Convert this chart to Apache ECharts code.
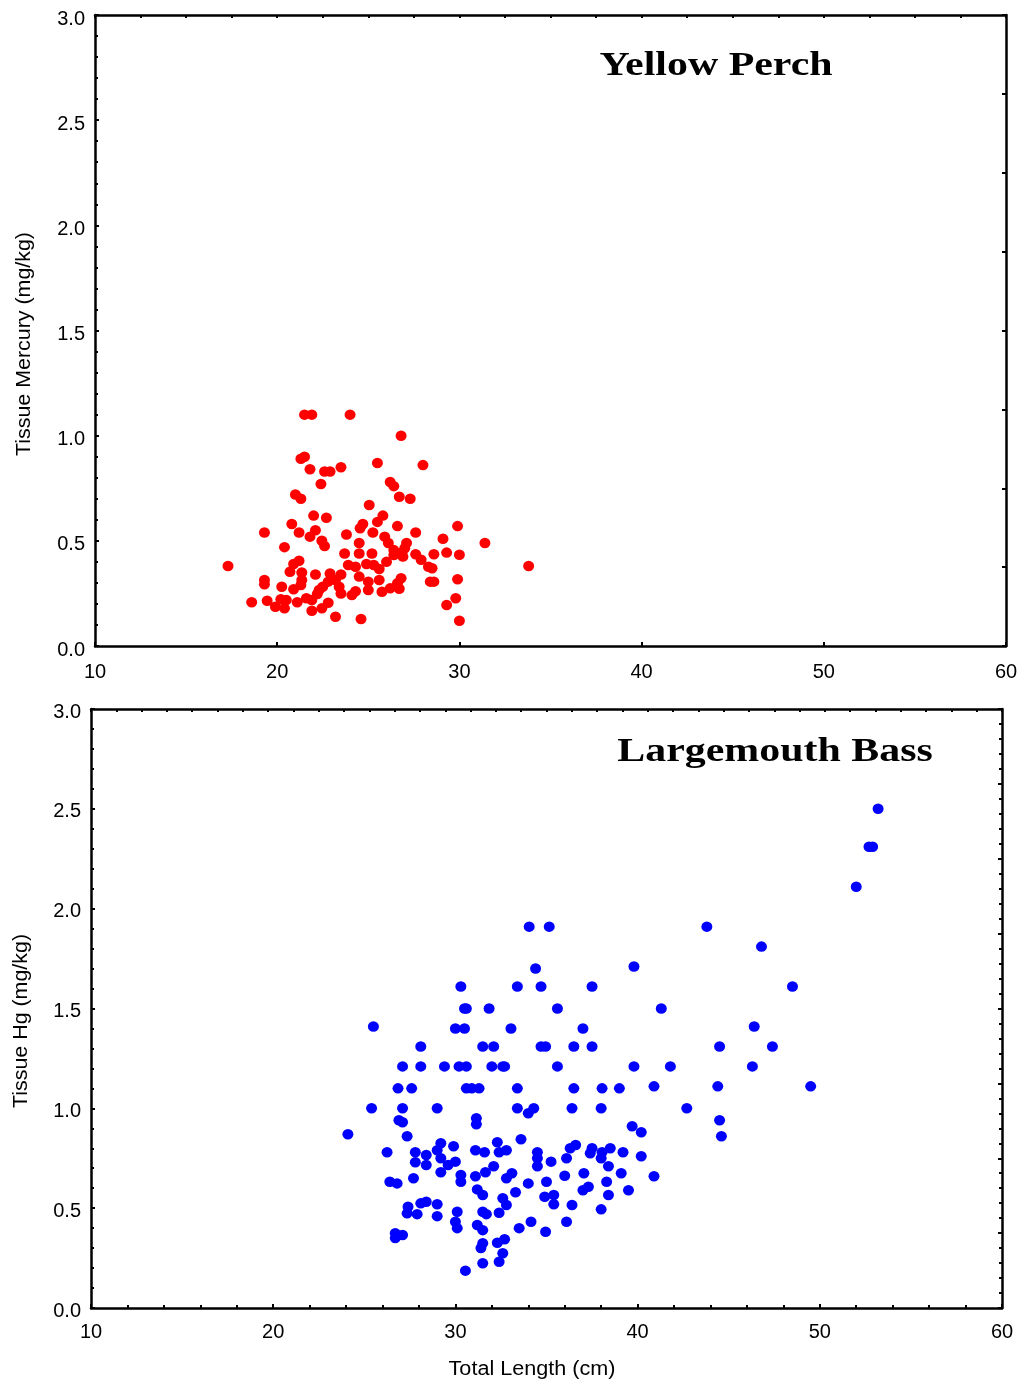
<!DOCTYPE html>
<html>
<head>
<meta charset="utf-8">
<script src="https://cdn.jsdelivr.net/npm/echarts@6/dist/echarts.min.js"></script>
<style>
html,body{margin:0;padding:0;background:#fff;}
#chart{width:1023px;height:1385px;}
</style>
</head>
<body>
<div id="chart"></div>
<script>
// ---- Data ----
const perchLength = [21.5,21.9,24.0,26.8,21.3,21.5,21.8,22.6,22.9,23.5,25.5,28.0,22.4,26.2,26.4,21.0,21.3,26.7,27.3,25.05,
  22.0,22.7,25.8,20.8,24.7,24.55,25.5,26.6,29.9,19.3,21.2,22.1,21.8,23.8,25.25,27.6,22.45,22.6,25.9,26.1,
  27.1,27.0,29.1,31.4,20.4,24.5,23.7,24.5,25.2,26.4,26.4,27.6,27.9,28.6,29.3,30.0,17.3,33.8,21.2,20.9,
  20.7,21.35,22.1,22.9,23.5,23.9,24.3,24.9,25.3,25.6,26.0,26.85,26.9,28.3,28.5,28.4,28.6,29.9,19.3,19.3,
  20.25,20.9,21.3,21.35,22.3,22.5,22.8,23.2,23.4,23.5,24.5,25.0,25.0,25.6,25.75,26.2,26.6,26.8,26.7,24.1,
  24.3,18.6,19.45,19.9,20.2,20.4,20.5,21.1,21.6,21.9,22.2,22.45,22.8,21.9,23.2,24.6,29.3,29.8,30.0];
const perchHg = [1.10,1.10,1.10,1.00,0.89,0.90,0.84,0.83,0.83,0.85,0.87,0.86,0.77,0.78,0.76,0.72,0.70,0.71,0.70,0.67,
  0.62,0.61,0.62,0.58,0.58,0.56,0.59,0.57,0.57,0.54,0.54,0.55,0.52,0.53,0.54,0.54,0.50,0.475,0.52,0.49,
  0.49,0.465,0.51,0.49,0.47,0.49,0.44,0.44,0.44,0.456,0.433,0.436,0.41,0.436,0.444,0.434,0.38,0.38,0.405,0.39,
  0.353,0.35,0.34,0.345,0.34,0.385,0.377,0.39,0.385,0.366,0.40,0.444,0.425,0.377,0.37,0.306,0.306,0.317,0.314,0.293,
  0.282,0.27,0.29,0.314,0.266,0.282,0.306,0.314,0.282,0.25,0.33,0.306,0.266,0.314,0.258,0.274,0.298,0.322,0.272,0.242,
  0.26,0.208,0.215,0.187,0.222,0.179,0.219,0.208,0.227,0.219,0.247,0.179,0.206,0.168,0.139,0.128,0.195,0.227,0.12];

const bassLength = [24.1,25.5,25.4,53.2,52.7,52.9,52.0,49.5,48.5,46.8,47.4,46.4,46.3,44.5,44.4,44.5,44.6,43.8,42.7,41.8,
  41.3,40.9,40.9,39.8,39.8,39.7,40.2,40.2,39.5,34.05,35.15,34.4,30.3,33.4,34.7,37.5,30.5,30.6,31.85,35.6,
  30.0,30.5,33.05,37.0,28.1,31.5,32.1,34.7,34.95,36.5,37.5,27.1,28.1,29.4,30.2,30.6,32.0,32.6,32.7,35.6,
  26.85,27.6,30.6,30.9,31.3,33.4,36.5,38.05,39.0,27.1,29.0,33.4,34.3,34.0,36.4,38.0,26.9,27.1,31.15,31.15,
  27.35,26.25,27.8,27.8,28.4,28.4,29.2,29.0,29.2,29.2,29.9,29.6,30.0,30.3,30.3,27.7,26.4,26.8,31.1,31.6,
  32.3,32.4,32.8,33.6,31.1,31.65,32.1,32.8,33.1,31.2,31.5,33.3,34.0,34.5,34.5,34.5,35.25,35.0,34.9,35.4,
  35.4,36.1,36.3,36.6,36.0,37.05,37.0,37.3,37.4,37.5,38.05,38.0,38.5,39.2,38.4,39.1,38.3,38.4,38.0,36.4,
  36.1,34.95,34.15,33.5,32.6,32.8,32.4,31.5,31.7,30.1,30.0,30.1,31.2,31.5,31.5,31.4,32.3,32.7,32.6,32.4,
  31.5,30.55,27.4,27.35,27.9,28.1,28.4,29.0,29.0,26.7,27.1,26.7];
const bassHg = [0.87,1.41,1.00,2.50,2.31,2.31,2.11,1.11,1.61,1.81,1.31,1.41,1.21,1.31,1.11,0.94,0.86,1.91,1.00,1.21,
  1.50,1.11,0.66,1.71,1.21,0.91,0.88,0.76,0.59,1.91,1.91,1.70,1.61,1.61,1.61,1.61,1.50,1.50,1.50,1.50,
  1.40,1.40,1.40,1.40,1.31,1.31,1.31,1.31,1.31,1.31,1.31,1.21,1.21,1.21,1.21,1.21,1.21,1.21,1.21,1.21,
  1.10,1.10,1.10,1.10,1.10,1.10,1.10,1.10,1.10,1.00,1.00,1.00,1.00,0.975,1.00,1.00,0.94,0.93,0.95,0.92,
  0.86,0.78,0.78,0.73,0.766,0.716,0.825,0.79,0.75,0.68,0.81,0.716,0.733,0.666,0.632,0.65,0.632,0.624,0.79,0.78,
  0.83,0.78,0.79,0.845,0.66,0.68,0.71,0.65,0.675,0.594,0.566,0.58,0.624,0.78,0.75,0.71,0.733,0.632,0.557,0.566,
  0.52,0.75,0.80,0.816,0.662,0.675,0.59,0.607,0.775,0.80,0.78,0.75,0.80,0.78,0.71,0.675,0.632,0.566,0.494,0.516,
  0.432,0.382,0.432,0.40,0.55,0.516,0.477,0.482,0.47,0.482,0.432,0.40,0.416,0.39,0.324,0.30,0.327,0.344,0.274,0.232,
  0.224,0.187,0.507,0.474,0.47,0.524,0.532,0.52,0.46,0.374,0.366,0.35];

const xTicks = [10,20,30,40,50,60];
const yTicks = [0.0,0.5,1.0,1.5,2.0,2.5,3.0];

const zip = (a,b) => a.map((v,i)=>[v,b[i]]);

const lineStyle = {color:'#000', width:2.5};
const tickStyle = {color:'#000', width:2};
const labelFont = {fontFamily:'"Liberation Sans", Arial, sans-serif', fontSize:20, color:'#000'};

function mainX(grid, minor, margin){
  return {gridIndex:grid, type:'value', position:'bottom', min:xTicks[0], max:xTicks[xTicks.length-1], interval:10,
    axisLine:{show:true,onZero:false,lineStyle}, axisTick:{show:true,inside:true,length:4,lineStyle:tickStyle},
    minorTick:{show:minor,splitNumber:5,length:3,lineStyle:tickStyle},
    splitLine:{show:false}, axisLabel:Object.assign({margin:margin, formatter:v=>String(v)},labelFont)};
}
function decoX(grid, min, max, interval){
  return {gridIndex:grid, type:'value', position:'top', min, max, interval,
    axisLine:{show:true,onZero:false,lineStyle}, axisTick:{show:true,inside:true,length:3,lineStyle:tickStyle},
    splitLine:{show:false}, axisLabel:{show:false}};
}
function mainY(grid, pad){
  return {gridIndex:grid, type:'value', position:'left', min:yTicks[0], max:yTicks[yTicks.length-1], interval:0.5,
    axisLine:{show:true,onZero:false,lineStyle}, axisTick:{show:true,inside:true,length:4,lineStyle:tickStyle},
    minorTick:{show:true,splitNumber:5,length:3,lineStyle:tickStyle},
    splitLine:{show:false},
    axisLabel:Object.assign({margin:10, formatter:v=>'{a|'+v.toFixed(1)+'}',
      rich:{a:Object.assign({padding:[pad,0,0,0]},labelFont)}},labelFont)};
}
function decoY(grid, minor){
  return {gridIndex:grid, type:'value', position:'right', min:0, max:3, interval:0.375,
    axisLine:{show:true,onZero:false,lineStyle}, axisTick:{show:true,inside:true,length:4,lineStyle:tickStyle},
    minorTick:{show:minor,splitNumber:5,length:3,lineStyle:tickStyle},
    splitLine:{show:false}, axisLabel:{show:false}};
}

const titleFont = 'bold 33px "Liberation Serif", "Times New Roman", serif';
const nameFont = '20px "Liberation Sans", Arial, sans-serif';

const chart = echarts.init(document.getElementById('chart'), null, {renderer:'canvas'});
chart.setOption({
  animation:false,
  backgroundColor:'#fff',
  grid:[
    {left:95, top:15, width:911, height:631},
    {left:91, top:709, width:911, height:599}
  ],
  xAxis:[
    mainX(0,false,16),
    decoX(0,10,60,2.5),
    mainX(1,true,14),
    decoX(1,0,36,1)
  ],
  yAxis:[
    mainY(0,8),
    decoY(0,false),
    mainY(1,6),
    decoY(1,true)
  ],
  series:[
    {type:'scatter', xAxisIndex:0, yAxisIndex:0, data:zip(perchLength,perchHg),
      symbol:'circle', symbolSize:[11,10.5], itemStyle:{color:'#ff0000', opacity:1}},
    {type:'scatter', xAxisIndex:2, yAxisIndex:2, data:zip(bassLength,bassHg),
      symbol:'circle', symbolSize:[11,10.5], itemStyle:{color:'#0000ff', opacity:1}}
  ],
  graphic:[
    {type:'text', x:716, y:66, scaleX:1.27, style:{text:'Yellow Perch', fill:'#000',
      font:titleFont, textAlign:'center', textVerticalAlign:'middle'}},
    {type:'text', x:775, y:752, scaleX:1.27, style:{text:'Largemouth Bass', fill:'#000',
      font:titleFont, textAlign:'center', textVerticalAlign:'middle'}},
    {type:'text', x:24, y:344, rotation:Math.PI/2, scaleX:1.07, style:{text:'Tissue Mercury (mg/kg)', fill:'#000',
      font:nameFont, textAlign:'center', textVerticalAlign:'middle'}},
    {type:'text', x:21, y:1021, rotation:Math.PI/2, scaleX:1.07, style:{text:'Tissue Hg (mg/kg)', fill:'#000',
      font:nameFont, textAlign:'center', textVerticalAlign:'middle'}},
    {type:'text', x:532, y:1369, scaleX:1.08, style:{text:'Total Length (cm)', fill:'#000',
      font:nameFont, textAlign:'center', textVerticalAlign:'middle'}}
  ]
});
</script>
</body>
</html>
